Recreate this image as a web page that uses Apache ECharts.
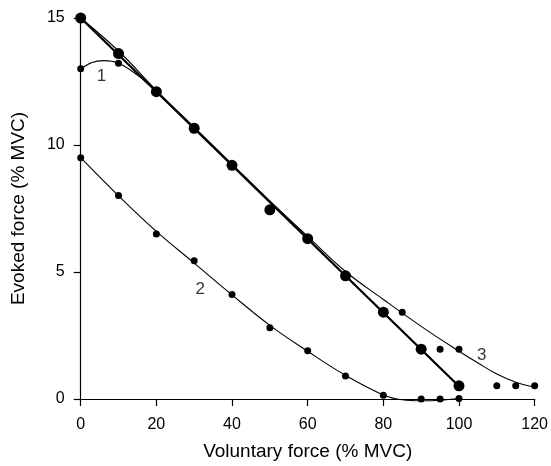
<!DOCTYPE html>
<html>
<head>
<meta charset="utf-8">
<script src="https://cdn.jsdelivr.net/npm/echarts@6/dist/echarts.min.js"></script>
<style>html,body{margin:0;padding:0;background:#fff}#c{width:551px;height:466px}</style>
</head>
<body>
<div id="c"></div>
<script>
// Tick labels
const xTicks = [0, 20, 40, 60, 80, 100, 120];
const yTicks = [0, 5, 10, 15];

// Large dots (condition with straight line)
const bigX = [0, 10, 20, 30, 40, 50, 60, 70, 80, 90, 100];
const bigY = [15.0, 13.6, 12.1, 10.66, 9.2, 7.45, 6.31, 4.85, 3.42, 1.96, 0.52];
// Straight line endpoints
const lineStraightX = [0, 100];
const lineStraightY = [15.0, 0.5];

// Curve 1: small dots and fitted curve readings
const c1DotX = [0, 10];
const c1DotY = [13.0, 13.22];
const c1FitX = [0, 3, 6, 10, 15, 20, 40, 60, 80, 100];
const c1FitY = [13.0, 13.25, 13.32, 13.22, 12.75, 12.1, 9.2, 6.3, 3.4, 0.5];

// Curve 2: small dots and fitted curve readings
const c2DotX = [0, 10, 20, 30, 40, 50, 60, 70, 80, 90, 95, 100];
const c2DotY = [9.5, 8.01, 6.5, 5.44, 4.11, 2.81, 1.9, 0.91, 0.15, 0.0, 0.0, 0.02];
const c2FitX = [0, 10, 20, 30, 40, 50, 60, 70, 80, 85, 90, 95, 100];
const c2FitY = [9.5, 8.0, 6.6, 5.35, 4.1, 2.9, 1.88, 0.93, 0.16, -0.03, -0.07, -0.05, 0.02];

// Curve 3: small dots and fitted curve readings
const c3DotX = [85, 95, 100, 110, 115, 120];
const c3DotY = [3.42, 1.96, 1.96, 0.52, 0.52, 0.52];
const c3FitX = [0, 10, 20, 30, 40, 50, 60, 70, 80, 90, 100, 105, 110, 115, 120];
const c3FitY = [15.0, 13.7, 12.15, 10.7, 9.25, 7.8, 6.4, 5.02, 3.92, 2.86, 1.88, 1.42, 0.98, 0.66, 0.47];

const labelsText = ['1', '2', '3'];

const zip = (xs, ys) => xs.map((x, i) => [x, ys[i]]);
const FONT = 'Liberation Sans, Arial, Helvetica, sans-serif';

const chart = echarts.init(document.getElementById('c'));
const thin = {color: '#000', width: 1.1};
const dot = {color: '#000', opacity: 1};
chart.setOption({
  animation: false,
  backgroundColor: '#fff',
  grid: {left: 80.7, right: 14.3, top: 18, bottom: 63.3},
  xAxis: {
    type: 'value', min: xTicks[0], max: xTicks[xTicks.length - 1], interval: 20,
    name: 'Voluntary force (% MVC)', nameLocation: 'middle', nameGap: 43,
    nameTextStyle: {color: '#000', fontSize: 19, fontFamily: FONT},
    axisLine: {show: true, lineStyle: {color: '#000', width: 1.2}},
    axisTick: {show: true, inside: false, length: 7, lineStyle: {color: '#000', width: 1.2}},
    axisLabel: {color: '#000', fontSize: 16, fontFamily: FONT, margin: 18},
    splitLine: {show: false}
  },
  yAxis: {
    type: 'value', min: yTicks[0], max: yTicks[yTicks.length - 1], interval: 5,
    name: 'Evoked force (% MVC)', nameLocation: 'middle', nameGap: 52,
    nameTextStyle: {color: '#000', fontSize: 19, fontFamily: FONT},
    axisLine: {show: true, lineStyle: {color: '#000', width: 1.2}},
    axisTick: {show: true, inside: false, length: 7, lineStyle: {color: '#000', width: 1.2}},
    axisLabel: {color: '#000', fontSize: 16, fontFamily: FONT, margin: 16},
    splitLine: {show: false}
  },
  series: [
    {type: 'line', data: zip(c3FitX, c3FitY), smooth: 0.4, showSymbol: false, lineStyle: thin, z: 2, clip: false},
    {type: 'line', data: zip(c1FitX, c1FitY), smooth: 0.4, showSymbol: false, lineStyle: thin, z: 2, clip: false},
    {type: 'line', data: zip(c2FitX, c2FitY), smooth: 0.4, showSymbol: false, lineStyle: thin, z: 2, clip: false},
    {type: 'line', data: zip(lineStraightX, lineStraightY), showSymbol: false, lineStyle: {color: '#000', width: 2.2}, z: 3},
    {type: 'scatter', data: zip(bigX, bigY), symbolSize: 11, itemStyle: dot, z: 5, clip: false},
    {type: 'scatter', data: zip(c1DotX, c1DotY), symbolSize: 7, itemStyle: dot, z: 5, clip: false},
    {type: 'scatter', data: zip(c2DotX, c2DotY), symbolSize: 7, itemStyle: dot, z: 5, clip: false},
    {type: 'scatter', data: zip(c3DotX, c3DotY), symbolSize: 7, itemStyle: dot, z: 5, clip: false},
    {
      type: 'scatter', symbolSize: 0, silent: true, z: 6,
      data: [[5.5, 12.7, labelsText[0]], [31.6, 4.33, labelsText[1]], [106, 1.73, labelsText[2]]],
      label: {show: true, position: 'inside', formatter: p => p.data[2], color: '#000', fontSize: 17, fontFamily: FONT}
    }
  ]
});
</script>
</body>
</html>
